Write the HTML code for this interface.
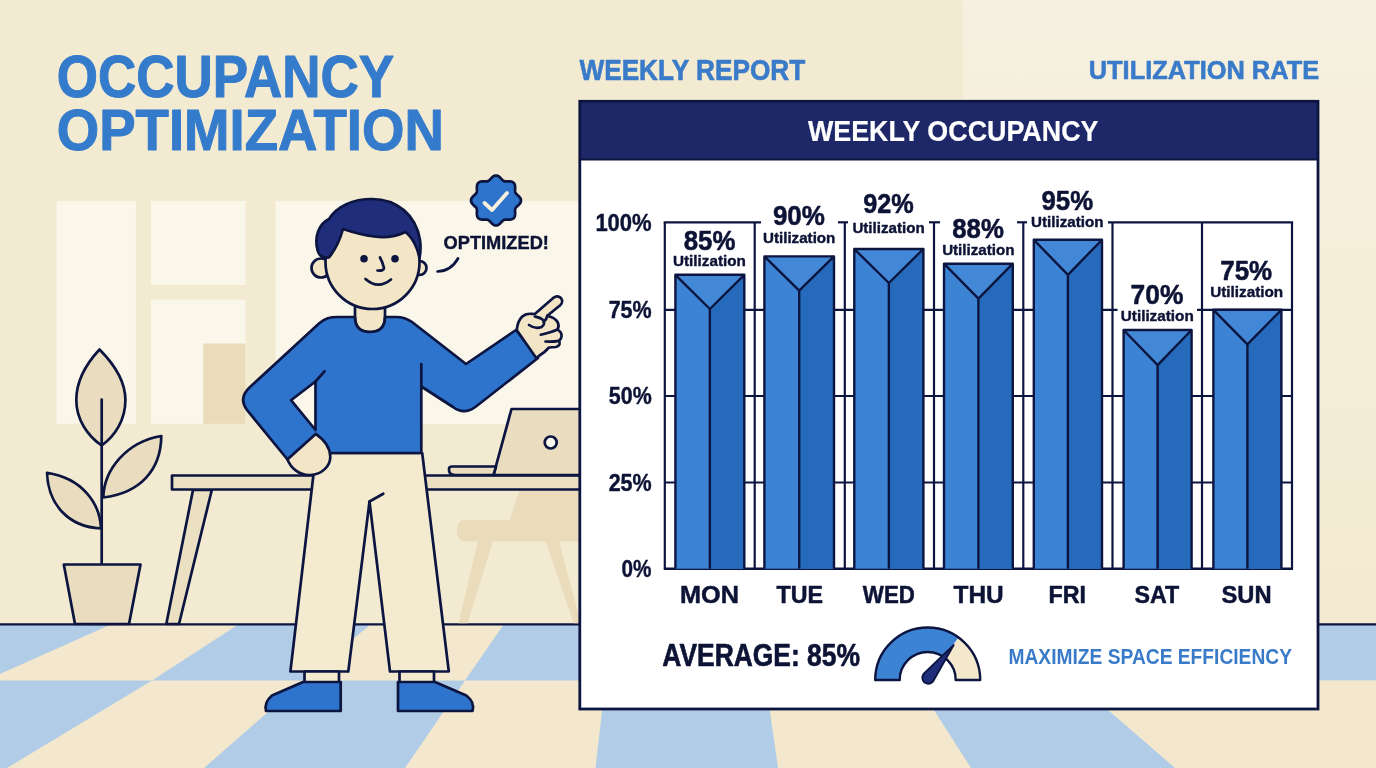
<!DOCTYPE html>
<html><head><meta charset="utf-8"><title>Occupancy Optimization</title>
<style>
html,body{margin:0;padding:0;background:#f3ead2;}
body{width:1376px;height:768px;overflow:hidden;}
svg{display:block;font-family:"Liberation Sans",sans-serif;font-weight:bold;will-change:transform;}
</style></head><body>
<svg width="1376" height="768" viewBox="0 0 1376 768">
<rect x="0" y="0" width="1376" height="768" fill="#f3ead2"/>
<defs><linearGradient id="wr" x1="0" y1="0" x2="0" y2="1"><stop offset="0" stop-color="#f6f0e0"/><stop offset="0.35" stop-color="#f5eeda"/><stop offset="1" stop-color="#f3ead0"/></linearGradient></defs>
<rect x="963" y="0" width="413" height="626" fill="url(#wr)"/>
<rect x="56.7" y="201" width="79.2" height="222.8" fill="#faf6ea"/>
<rect x="151" y="201" width="94.5" height="84" fill="#faf6ea"/>
<rect x="151" y="299.5" width="94.5" height="124.3" fill="#faf6ea"/>
<rect x="203.3" y="343.5" width="42.2" height="80.3" fill="#eadbb9"/>
<rect x="275.5" y="201" width="305" height="223" fill="#faf6ea"/>
<rect x="0" y="624" width="1376" height="144" fill="#f3e8ce"/>
<polygon points="-20.0,624.0 112.0,624.0 -14.8,680.5 -150.0,680.5" fill="#b1cce6"/>
<polygon points="-14.8,680.5 152.0,680.5 7.0,768.0 -211.0,768.0" fill="#b1cce6"/>
<polygon points="239.0,624.0 371.0,624.0 304.0,680.5 152.0,680.5" fill="#b1cce6"/>
<polygon points="304.0,680.5 465.0,680.5 405.0,768.0 204.0,768.0" fill="#b1cce6"/>
<polygon points="504.0,624.0 612.0,624.0 605.5,680.5 465.0,680.5" fill="#b1cce6"/>
<polygon points="605.5,680.5 765.5,680.5 778.0,768.0 595.5,768.0" fill="#b1cce6"/>
<polygon points="760.0,624.0 880.0,624.0 915.0,680.5 765.5,680.5" fill="#b1cce6"/>
<polygon points="915.0,680.5 1074.0,680.5 1175.0,768.0 971.0,768.0" fill="#b1cce6"/>
<polygon points="1043.0,624.0 1300.0,624.0 1400.0,680.5 1074.0,680.5" fill="#b1cce6"/>
<polygon points="1400.0,680.5 1700.0,680.5 1900.0,768.0 1560.0,768.0" fill="#b1cce6"/>
<rect x="1300" y="624" width="76" height="56.5" fill="#b1cce6"/>
<rect x="1300" y="680.5" width="76" height="90" fill="#f3e8ce"/>
<line x1="0" y1="624.4" x2="1376" y2="624.4" stroke="#0c1440" stroke-width="2.2"/>
<path d="M99.5,349.5 C86,364 76.3,382 76.3,400 C76.3,420 88,436 101.7,445.5 C115,436 125.4,420 125.4,400 C125.4,382 114,364 99.5,349.5 Z" fill="#eaddbf" stroke="#0c1440" stroke-width="2.7" stroke-linejoin="round" stroke-linecap="round"/>
<path d="M101.7,399.5 L101.7,564" fill="none" stroke="#0c1440" stroke-width="2.7" stroke-linejoin="round" stroke-linecap="round"/>
<path d="M103.3,497.5 C104,470 126,442 161.3,436 C161,470 140,493 103.3,497.5 Z" fill="#eaddbf" stroke="#0c1440" stroke-width="2.7" stroke-linejoin="round" stroke-linecap="round"/>
<path d="M101,528.5 C100,503 82,478 47,472.8 C48,504 68,527 101,528.5 Z" fill="#eaddbf" stroke="#0c1440" stroke-width="2.7" stroke-linejoin="round" stroke-linecap="round"/>
<path d="M63.8,564.5 L140.5,564.5 L129,624 L75,624 Z" fill="#eaddbf" stroke="#0c1440" stroke-width="2.7" stroke-linejoin="round" stroke-linecap="round"/>
<path d="M520,489 L580,489 L580,541.5 L466,541.5 Q457,541.5 457,532 L457,529 Q457,520 466,520 L509.5,520 Z" fill="#eadbbb"/>
<polygon points="478.0,541.0 493.0,541.0 467.5,623.3 458.5,623.3" fill="#eadbbb"/>
<polygon points="545.4,541.0 558.8,541.0 580.0,620.0 580.0,623.3 573.8,623.3" fill="#eadbbb"/>
<path d="M193,490 L211.8,490 L179,624 L166.3,624 Z" fill="#ece0c3" stroke="#0c1440" stroke-width="2.7" stroke-linejoin="round" stroke-linecap="round"/>
<rect x="172" y="475.5" width="410" height="14" fill="#ece0c3" stroke="#0c1440" stroke-width="2.7" stroke-linejoin="round" stroke-linecap="round"/>
<path d="M511.5,409 L582,409 L582,475 L493.5,475 Z" fill="#eaddbf" stroke="#0c1440" stroke-width="2.7" stroke-linejoin="round" stroke-linecap="round"/>
<path d="M452,466.5 L496,466.5 L493.5,475 L455,475 Q448.5,475 449,469 Q449,466.5 452,466.5 Z" fill="#eaddbf" stroke="#0c1440" stroke-width="2.7" stroke-linejoin="round" stroke-linecap="round"/>
<circle cx="550.7" cy="442.5" r="6" fill="#fbf8ee" stroke="#0c1440" stroke-width="2.7" stroke-linejoin="round" stroke-linecap="round"/>
<path fill-rule="evenodd" d="M316,453 L422.2,453 L448.8,671.5 L390,671.5 L369.5,501.5 L348.3,671.5 L290.4,671.5 Z" fill="#f3ead0" stroke="#0c1440" stroke-width="2.7" stroke-linejoin="round" stroke-linecap="round"/>
<path d="M369.5,501.5 L383.3,493.7" fill="none" stroke="#0c1440" stroke-width="2.7" stroke-linejoin="round" stroke-linecap="round"/>
<rect x="304.5" y="671.5" width="34.5" height="11" fill="#f3ead0" stroke="#0c1440" stroke-width="2.7" stroke-linejoin="round" stroke-linecap="round"/>
<rect x="399.5" y="671.5" width="34.5" height="11" fill="#f3ead0" stroke="#0c1440" stroke-width="2.7" stroke-linejoin="round" stroke-linecap="round"/>
<path d="M303,682 L340.7,682 L340.7,711 L266,711 Q264,702 272,695.5 Z" fill="#2f74cc" stroke="#0c1440" stroke-width="2.7" stroke-linejoin="round" stroke-linecap="round"/>
<path d="M435,682 L398,682 L398,711 L472.5,711 Q475,702 466.3,695.5 Z" fill="#2f74cc" stroke="#0c1440" stroke-width="2.7" stroke-linejoin="round" stroke-linecap="round"/>
<path d="M355,300 L355,317 Q355,332 370,332 Q385,332 385,317 L385,300 Z" fill="#f3e6c6" stroke="#0c1440" stroke-width="2.7" stroke-linejoin="round" stroke-linecap="round"/>
<path fill-rule="evenodd" d="M355,317 L338,317 C330,317 325,318 319,323.5 L250,387 Q238,398 247,410 L287.5,459.5 L316,434.5 L316,453 L421.3,453 L421.3,386.5 L453,407 Q464,415.5 476,406.5 L538,358 L516,330 L466,364 L412,322 Q405,317 396,317 L385,317 Q385,332 370,332 Q355,332 355,317 Z M315.5,381.5 L291,400.2 L315.5,430 Z" fill="#2f74cc" stroke="#0c1440" stroke-width="2.7" stroke-linejoin="round" stroke-linecap="round"/>
<path d="M324.5,371.3 L315.5,381.5 M421.3,364 L421.3,386.5" fill="none" stroke="#0c1440" stroke-width="2.7" stroke-linejoin="round" stroke-linecap="round"/>
<path d="M287.4,459.4 C291,468 299,475.5 310.2,475 C322,474.5 330.5,466 330.3,456.5 C330,448 324.5,440 315.7,433.9 Z" fill="#f3e6c6" stroke="#0c1440" stroke-width="2.7" stroke-linejoin="round" stroke-linecap="round"/>
<path d="M516.7,330.1 C517.3,324.5 518.8,320 522,316.8 C524.5,314.3 528,313.6 531.5,313.8 L534.8,314 L553.8,297.6 C556,295.8 559.2,296 561,298.2 C562.8,300.5 562.3,303.5 560.2,305.3 L547.3,315.8 C551,316.5 556.5,319 558,323 C559,326 558.5,328 557.5,329.5 C560.5,331.5 562.3,334.5 561.3,337.5 C560.8,339 560,340 559,340.8 C560.8,343 559.5,346 556,347 L549,347.5 C546,351 543,353.5 539.5,355.5 L536.2,358.1 Z" fill="#f3e6c6" stroke="#0c1440" stroke-width="2.7" stroke-linejoin="round" stroke-linecap="round"/>
<path d="M529,325 C533,327.8 538,328.5 541.5,327 C544.5,325.5 545,321.5 542.5,319.5 C540,317.5 537,317 534.8,316.5 M540.8,334.7 C546,333.5 553,331.5 557.5,329.5 M545.5,341.5 C550,341.8 555,341.5 559,340.8 M543.5,322 C546,320 547,318 547.3,315.8" fill="none" stroke="#0c1440" stroke-width="2.7" stroke-linejoin="round" stroke-linecap="round"/>
<circle cx="321" cy="268" r="9.5" fill="#f3e6c6" stroke="#0c1440" stroke-width="2.7" stroke-linejoin="round" stroke-linecap="round"/>
<circle cx="419.5" cy="268" r="7" fill="#f3e6c6" stroke="#0c1440" stroke-width="2.7" stroke-linejoin="round" stroke-linecap="round"/>
<circle cx="372.5" cy="262" r="47" fill="#f3e6c6" stroke="#0c1440" stroke-width="2.7" stroke-linejoin="round" stroke-linecap="round"/>
<path d="M329,257.5 C324,258 319,257 317.5,250 C314,236 319,224 329,219 C337,206 353,199 372,199 C397,199 416,215 420,240 C421,247 420.5,253 419.5,258 C418,249 413,238 405.5,232 C395,237 384,238 374,236.5 C362,235 352,232 343,229 C340,240 335,250 329,257.5 Z" fill="#1f2d7a" stroke="#0c1440" stroke-width="2.7" stroke-linejoin="round" stroke-linecap="round"/>
<circle cx="364" cy="258.8" r="3.8" fill="#0c1440"/>
<circle cx="395" cy="258.8" r="3.8" fill="#0c1440"/>
<path d="M380,257.5 Q383,263 384,268 Q384,271 377.5,270.5" fill="none" stroke="#0c1440" stroke-width="2.7" stroke-linejoin="round" stroke-linecap="round"/>
<path d="M365.5,279 Q378,290 391,279.5" fill="none" stroke="#0c1440" stroke-width="2.7" stroke-linejoin="round" stroke-linecap="round"/>
<path d="M437.5,271.5 Q451,271 458,258.5" fill="none" stroke="#0c1440" stroke-width="2.7" stroke-linejoin="round" stroke-linecap="round"/>
<path d="M496.0,175.5 L496.8,175.6 L497.6,175.8 L498.4,176.2 L499.1,176.7 L499.8,177.3 L500.5,177.9 L501.1,178.6 L501.7,179.2 L502.3,179.8 L502.8,180.4 L503.4,180.8 L504.0,181.1 L504.7,181.3 L505.4,181.4 L506.2,181.5 L507.0,181.4 L507.9,181.4 L508.8,181.4 L509.7,181.4 L510.6,181.5 L511.5,181.6 L512.3,181.9 L513.0,182.3 L513.7,182.8 L514.2,183.5 L514.6,184.2 L514.9,185.0 L515.0,185.9 L515.1,186.8 L515.1,187.7 L515.1,188.6 L515.1,189.5 L515.0,190.3 L515.1,191.1 L515.2,191.8 L515.4,192.5 L515.7,193.1 L516.1,193.7 L516.7,194.2 L517.3,194.8 L517.9,195.4 L518.6,196.0 L519.2,196.7 L519.8,197.4 L520.3,198.1 L520.7,198.9 L520.9,199.7 L521.0,200.5 L520.9,201.3 L520.7,202.1 L520.3,202.9 L519.8,203.6 L519.2,204.3 L518.6,205.0 L517.9,205.6 L517.3,206.2 L516.7,206.8 L516.1,207.3 L515.7,207.9 L515.4,208.5 L515.2,209.2 L515.1,209.9 L515.0,210.7 L515.1,211.5 L515.1,212.4 L515.1,213.3 L515.1,214.2 L515.0,215.1 L514.9,216.0 L514.6,216.8 L514.2,217.5 L513.7,218.2 L513.0,218.7 L512.3,219.1 L511.5,219.4 L510.6,219.5 L509.7,219.6 L508.8,219.6 L507.9,219.6 L507.0,219.6 L506.2,219.5 L505.4,219.6 L504.7,219.7 L504.0,219.9 L503.4,220.2 L502.8,220.6 L502.3,221.2 L501.7,221.8 L501.1,222.4 L500.5,223.1 L499.8,223.7 L499.1,224.3 L498.4,224.8 L497.6,225.2 L496.8,225.4 L496.0,225.5 L495.2,225.4 L494.4,225.2 L493.6,224.8 L492.9,224.3 L492.2,223.7 L491.5,223.1 L490.9,222.4 L490.3,221.8 L489.7,221.2 L489.2,220.6 L488.6,220.2 L488.0,219.9 L487.3,219.7 L486.6,219.6 L485.8,219.5 L485.0,219.6 L484.1,219.6 L483.2,219.6 L482.3,219.6 L481.4,219.5 L480.5,219.4 L479.7,219.1 L479.0,218.7 L478.3,218.2 L477.8,217.5 L477.4,216.8 L477.1,216.0 L477.0,215.1 L476.9,214.2 L476.9,213.3 L476.9,212.4 L476.9,211.5 L477.0,210.7 L476.9,209.9 L476.8,209.2 L476.6,208.5 L476.3,207.9 L475.9,207.3 L475.3,206.8 L474.7,206.2 L474.1,205.6 L473.4,205.0 L472.8,204.3 L472.2,203.6 L471.7,202.9 L471.3,202.1 L471.1,201.3 L471.0,200.5 L471.1,199.7 L471.3,198.9 L471.7,198.1 L472.2,197.4 L472.8,196.7 L473.4,196.0 L474.1,195.4 L474.7,194.8 L475.3,194.2 L475.9,193.7 L476.3,193.1 L476.6,192.5 L476.8,191.8 L476.9,191.1 L477.0,190.3 L476.9,189.5 L476.9,188.6 L476.9,187.7 L476.9,186.8 L477.0,185.9 L477.1,185.0 L477.4,184.2 L477.8,183.5 L478.3,182.8 L479.0,182.3 L479.7,181.9 L480.5,181.6 L481.4,181.5 L482.3,181.4 L483.2,181.4 L484.1,181.4 L485.0,181.4 L485.8,181.5 L486.6,181.4 L487.3,181.3 L488.0,181.1 L488.6,180.8 L489.2,180.4 L489.7,179.8 L490.3,179.2 L490.9,178.6 L491.5,177.9 L492.2,177.3 L492.9,176.7 L493.6,176.2 L494.4,175.8 L495.2,175.6 L496.0,175.5 Z" fill="#2f74cc" stroke="#0c1440" stroke-width="2.7" stroke-linejoin="round" stroke-linecap="round"/>
<path d="M484.5,203 L492,210 L507,193" fill="none" stroke="#f7f0dc" stroke-width="3.8" stroke-linecap="round" stroke-linejoin="round"/>
<rect x="579.8" y="101.3" width="738.2" height="607.7" fill="#ffffff"/>
<rect x="579.8" y="101.3" width="738.2" height="58.2" fill="#1e2868"/>
<line x1="580" y1="159.5" x2="1318" y2="159.5" stroke="#0c1440" stroke-width="2"/>
<rect x="579.8" y="101.3" width="738.2" height="607.7" fill="none" stroke="#0c1440" stroke-width="2.8"/>
<line x1="664.8" y1="222.3" x2="664.8" y2="568.7" stroke="#0c1440" stroke-width="2.2"/>
<line x1="754.7" y1="222.3" x2="754.7" y2="568.7" stroke="#0c1440" stroke-width="2.2"/>
<line x1="844.8" y1="222.3" x2="844.8" y2="568.7" stroke="#0c1440" stroke-width="2.2"/>
<line x1="934" y1="222.3" x2="934" y2="568.7" stroke="#0c1440" stroke-width="2.2"/>
<line x1="1023.3" y1="222.3" x2="1023.3" y2="568.7" stroke="#0c1440" stroke-width="2.2"/>
<line x1="1112.5" y1="222.3" x2="1112.5" y2="568.7" stroke="#0c1440" stroke-width="2.2"/>
<line x1="1202" y1="222.3" x2="1202" y2="568.7" stroke="#0c1440" stroke-width="2.2"/>
<line x1="1292" y1="222.3" x2="1292" y2="568.7" stroke="#0c1440" stroke-width="2.2"/>
<line x1="664.8" y1="309.8" x2="1292" y2="309.8" stroke="#0c1440" stroke-width="2.2"/>
<line x1="664.8" y1="396" x2="1292" y2="396" stroke="#0c1440" stroke-width="2.2"/>
<line x1="664.8" y1="482.5" x2="1292" y2="482.5" stroke="#0c1440" stroke-width="2.2"/>
<line x1="663.8" y1="568.7" x2="1293" y2="568.7" stroke="#0c1440" stroke-width="2.6"/>
<rect x="1117.5" y="305" width="79.5" height="9" fill="#ffffff"/>
<line x1="663.7" y1="222.3" x2="761" y2="222.3" stroke="#0c1440" stroke-width="2.2"/>
<line x1="838" y1="222.3" x2="848" y2="222.3" stroke="#0c1440" stroke-width="2.2"/>
<line x1="929" y1="222.3" x2="940" y2="222.3" stroke="#0c1440" stroke-width="2.2"/>
<line x1="1017" y1="222.3" x2="1027" y2="222.3" stroke="#0c1440" stroke-width="2.2"/>
<line x1="1108" y1="222.3" x2="1293.1" y2="222.3" stroke="#0c1440" stroke-width="2.2"/>
<rect x="675.4" y="274.8" width="68.89999999999998" height="293.90000000000003" fill="#3c83d4"/>
<polygon points="709.8499999999999,309 744.3,274.8 744.3,568.7 709.8499999999999,568.7" fill="#266bbb"/>
<polygon points="675.4,274.8 744.3,274.8 709.8499999999999,309" fill="#4388d6"/>
<path d="M675.4,568.7 L675.4,274.8 L744.3,274.8 L744.3,568.7 M675.4,274.8 L709.8499999999999,309 L744.3,274.8 M709.8499999999999,309 L709.8499999999999,568.7" fill="none" stroke="#0c1440" stroke-width="2.4" stroke-linejoin="round"/>
<rect x="764.4" y="256.4" width="69.60000000000002" height="312.30000000000007" fill="#3c83d4"/>
<polygon points="799.2,290.7 834,256.4 834,568.7 799.2,568.7" fill="#266bbb"/>
<polygon points="764.4,256.4 834,256.4 799.2,290.7" fill="#4388d6"/>
<path d="M764.4,568.7 L764.4,256.4 L834,256.4 L834,568.7 M764.4,256.4 L799.2,290.7 L834,256.4 M799.2,290.7 L799.2,568.7" fill="none" stroke="#0c1440" stroke-width="2.4" stroke-linejoin="round"/>
<rect x="854.3" y="249" width="69.10000000000002" height="319.70000000000005" fill="#3c83d4"/>
<polygon points="888.8499999999999,283 923.4,249 923.4,568.7 888.8499999999999,568.7" fill="#266bbb"/>
<polygon points="854.3,249 923.4,249 888.8499999999999,283" fill="#4388d6"/>
<path d="M854.3,568.7 L854.3,249 L923.4,249 L923.4,568.7 M854.3,249 L888.8499999999999,283 L923.4,249 M888.8499999999999,283 L888.8499999999999,568.7" fill="none" stroke="#0c1440" stroke-width="2.4" stroke-linejoin="round"/>
<rect x="944" y="263.7" width="68.79999999999995" height="305.00000000000006" fill="#3c83d4"/>
<polygon points="978.4,298.7 1012.8,263.7 1012.8,568.7 978.4,568.7" fill="#266bbb"/>
<polygon points="944,263.7 1012.8,263.7 978.4,298.7" fill="#4388d6"/>
<path d="M944,568.7 L944,263.7 L1012.8,263.7 L1012.8,568.7 M944,263.7 L978.4,298.7 L1012.8,263.7 M978.4,298.7 L978.4,568.7" fill="none" stroke="#0c1440" stroke-width="2.4" stroke-linejoin="round"/>
<rect x="1033.8" y="239.8" width="68.20000000000005" height="328.90000000000003" fill="#3c83d4"/>
<polygon points="1067.9,274.8 1102,239.8 1102,568.7 1067.9,568.7" fill="#266bbb"/>
<polygon points="1033.8,239.8 1102,239.8 1067.9,274.8" fill="#4388d6"/>
<path d="M1033.8,568.7 L1033.8,239.8 L1102,239.8 L1102,568.7 M1033.8,239.8 L1067.9,274.8 L1102,239.8 M1067.9,274.8 L1067.9,568.7" fill="none" stroke="#0c1440" stroke-width="2.4" stroke-linejoin="round"/>
<rect x="1123.6" y="330" width="68.0" height="238.70000000000005" fill="#3c83d4"/>
<polygon points="1157.6,365.2 1191.6,330 1191.6,568.7 1157.6,568.7" fill="#266bbb"/>
<polygon points="1123.6,330 1191.6,330 1157.6,365.2" fill="#4388d6"/>
<path d="M1123.6,568.7 L1123.6,330 L1191.6,330 L1191.6,568.7 M1123.6,330 L1157.6,365.2 L1191.6,330 M1157.6,365.2 L1157.6,568.7" fill="none" stroke="#0c1440" stroke-width="2.4" stroke-linejoin="round"/>
<rect x="1213.4" y="309.8" width="68.0" height="258.90000000000003" fill="#3c83d4"/>
<polygon points="1247.4,344.3 1281.4,309.8 1281.4,568.7 1247.4,568.7" fill="#266bbb"/>
<polygon points="1213.4,309.8 1281.4,309.8 1247.4,344.3" fill="#4388d6"/>
<path d="M1213.4,568.7 L1213.4,309.8 L1281.4,309.8 L1281.4,568.7 M1213.4,309.8 L1247.4,344.3 L1281.4,309.8 M1247.4,344.3 L1247.4,568.7" fill="none" stroke="#0c1440" stroke-width="2.4" stroke-linejoin="round"/>
<text transform="matrix(0.2582,0,0,0.2817,683.68,249.57)" font-size="100" fill="#0c1335" stroke="#0c1335" stroke-width="0.5" vector-effect="non-scaling-stroke" stroke-linejoin="round">85%</text>
<text transform="matrix(0.1528,0,0,0.1405,672.98,266.06)" font-size="100" fill="#0c1335" stroke="#0c1335" stroke-width="0.4" vector-effect="non-scaling-stroke" stroke-linejoin="round">Utilization</text>
<text transform="matrix(0.2601,0,0,0.2718,772.91,225.38)" font-size="100" fill="#0c1335" stroke="#0c1335" stroke-width="0.5" vector-effect="non-scaling-stroke" stroke-linejoin="round">90%</text>
<text transform="matrix(0.1515,0,0,0.1405,762.99,242.96)" font-size="100" fill="#0c1335" stroke="#0c1335" stroke-width="0.4" vector-effect="non-scaling-stroke" stroke-linejoin="round">Utilization</text>
<text transform="matrix(0.2528,0,0,0.2761,863.24,212.57)" font-size="100" fill="#0c1335" stroke="#0c1335" stroke-width="0.5" vector-effect="non-scaling-stroke" stroke-linejoin="round">92%</text>
<text transform="matrix(0.1517,0,0,0.1446,852.39,232.56)" font-size="100" fill="#0c1335" stroke="#0c1335" stroke-width="0.4" vector-effect="non-scaling-stroke" stroke-linejoin="round">Utilization</text>
<text transform="matrix(0.2582,0,0,0.2754,952.18,237.87)" font-size="100" fill="#0c1335" stroke="#0c1335" stroke-width="0.5" vector-effect="non-scaling-stroke" stroke-linejoin="round">88%</text>
<text transform="matrix(0.1516,0,0,0.1446,942.14,255.26)" font-size="100" fill="#0c1335" stroke="#0c1335" stroke-width="0.4" vector-effect="non-scaling-stroke" stroke-linejoin="round">Utilization</text>
<text transform="matrix(0.258,0,0,0.2746,1041.52,209.98)" font-size="100" fill="#0c1335" stroke="#0c1335" stroke-width="0.5" vector-effect="non-scaling-stroke" stroke-linejoin="round">95%</text>
<text transform="matrix(0.1515,0,0,0.1446,1031.09,227.16)" font-size="100" fill="#0c1335" stroke="#0c1335" stroke-width="0.4" vector-effect="non-scaling-stroke" stroke-linejoin="round">Utilization</text>
<text transform="matrix(0.264,0,0,0.2761,1130.54,303.57)" font-size="100" fill="#0c1335" stroke="#0c1335" stroke-width="0.5" vector-effect="non-scaling-stroke" stroke-linejoin="round">70%</text>
<text transform="matrix(0.1528,0,0,0.1432,1120.78,320.66)" font-size="100" fill="#0c1335" stroke="#0c1335" stroke-width="0.4" vector-effect="non-scaling-stroke" stroke-linejoin="round">Utilization</text>
<text transform="matrix(0.2596,0,0,0.2775,1220.21,279.77)" font-size="100" fill="#0c1335" stroke="#0c1335" stroke-width="0.5" vector-effect="non-scaling-stroke" stroke-linejoin="round">75%</text>
<text transform="matrix(0.1528,0,0,0.1432,1210.18,296.76)" font-size="100" fill="#0c1335" stroke="#0c1335" stroke-width="0.4" vector-effect="non-scaling-stroke" stroke-linejoin="round">Utilization</text>
<text transform="matrix(0.2202,0,0,0.2408,595.38,230.76)" font-size="100" fill="#0c1335" stroke="#0c1335" stroke-width="0.4" vector-effect="non-scaling-stroke" stroke-linejoin="round">100%</text>
<text transform="matrix(0.215,0,0,0.2408,608.64,317.56)" font-size="100" fill="#0c1335" stroke="#0c1335" stroke-width="0.4" vector-effect="non-scaling-stroke" stroke-linejoin="round">75%</text>
<text transform="matrix(0.2139,0,0,0.2408,608.86,404.46)" font-size="100" fill="#0c1335" stroke="#0c1335" stroke-width="0.4" vector-effect="non-scaling-stroke" stroke-linejoin="round">50%</text>
<text transform="matrix(0.2149,0,0,0.2366,608.66,490.76)" font-size="100" fill="#0c1335" stroke="#0c1335" stroke-width="0.4" vector-effect="non-scaling-stroke" stroke-linejoin="round">25%</text>
<text transform="matrix(0.2072,0,0,0.2366,621.57,576.76)" font-size="100" fill="#0c1335" stroke="#0c1335" stroke-width="0.4" vector-effect="non-scaling-stroke" stroke-linejoin="round">0%</text>
<text transform="matrix(0.2525,0,0,0.2465,680.08,603.00)" font-size="100" fill="#0c1335" stroke="#0c1335" stroke-width="0.5" vector-effect="non-scaling-stroke" stroke-linejoin="round">MON</text>
<text transform="matrix(0.2323,0,0,0.2465,776.52,603.00)" font-size="100" fill="#0c1335" stroke="#0c1335" stroke-width="0.5" vector-effect="non-scaling-stroke" stroke-linejoin="round">TUE</text>
<text transform="matrix(0.2231,0,0,0.2465,862.85,603.00)" font-size="100" fill="#0c1335" stroke="#0c1335" stroke-width="0.5" vector-effect="non-scaling-stroke" stroke-linejoin="round">WED</text>
<text transform="matrix(0.2439,0,0,0.2465,953.51,603.00)" font-size="100" fill="#0c1335" stroke="#0c1335" stroke-width="0.5" vector-effect="non-scaling-stroke" stroke-linejoin="round">THU</text>
<text transform="matrix(0.2333,0,0,0.2465,1048.52,603.00)" font-size="100" fill="#0c1335" stroke="#0c1335" stroke-width="0.5" vector-effect="non-scaling-stroke" stroke-linejoin="round">FRI</text>
<text transform="matrix(0.2328,0,0,0.2465,1134.45,603.00)" font-size="100" fill="#0c1335" stroke="#0c1335" stroke-width="0.5" vector-effect="non-scaling-stroke" stroke-linejoin="round">SAT</text>
<text transform="matrix(0.2373,0,0,0.2465,1221.54,603.00)" font-size="100" fill="#0c1335" stroke="#0c1335" stroke-width="0.5" vector-effect="non-scaling-stroke" stroke-linejoin="round">SUN</text>
<text transform="matrix(0.2643,0,0,0.307,662.31,666.49)" font-size="100" fill="#0c1335" stroke="#0c1335" stroke-width="0.6" vector-effect="non-scaling-stroke" stroke-linejoin="round">AVERAGE: 85%</text>
<text transform="matrix(0.1922,0,0,0.2155,1008.45,663.58)" font-size="100" fill="#3a7bc9">MAXIMIZE SPACE EFFICIENCY</text>
<text transform="matrix(0.2687,0,0,0.3014,807.9,141.2)" font-size="100" fill="#ffffff" stroke="#ffffff" stroke-width="0.2" vector-effect="non-scaling-stroke" stroke-linejoin="round">WEEKLY OCCUPANCY</text>
<text transform="matrix(0.2623,0,0,0.293,579.4,79.91)" font-size="100" fill="#3a7bc9" stroke="#3a7bc9" stroke-width="0.6" vector-effect="non-scaling-stroke" stroke-linejoin="round">WEEKLY REPORT</text>
<text transform="matrix(0.254,0,0,0.2662,1088.78,79.43)" font-size="100" fill="#3a7bc9" stroke="#3a7bc9" stroke-width="0.6" vector-effect="non-scaling-stroke" stroke-linejoin="round">UTILIZATION RATE</text>
<text transform="matrix(0.5296,0,0,0.5873,56.78,96.71)" font-size="100" fill="#357bcb" stroke="#357bcb" stroke-width="1.0" vector-effect="non-scaling-stroke" stroke-linejoin="round">OCCUPANCY</text>
<text transform="matrix(0.546,0,0,0.5732,56.72,150.23)" font-size="100" fill="#357bcb" stroke="#357bcb" stroke-width="1.0" vector-effect="non-scaling-stroke" stroke-linejoin="round">OPTIMIZATION</text>
<text transform="matrix(0.1824,0,0,0.188,443.57,248.51)" font-size="100" fill="#0c1335" stroke="#0c1335" stroke-width="0.4" vector-effect="non-scaling-stroke" stroke-linejoin="round">OPTIMIZED!</text>
<path d="M875.2,680 A52.5,52.5 0 0 1 958.6,637.5 L944.2,657.3 A28,28 0 0 0 899.7,680 Z" fill="#3c83d4"/>
<path d="M958.6,637.5 A52.5,52.5 0 0 1 980.2,680 L955.7,680 A28,28 0 0 0 944.2,657.3 Z" fill="#f3e8cb"/>
<path d="M875.2,680 A52.5,52.5 0 0 1 980.2,680 L955.7,680 A28,28 0 0 0 899.7,680 Z" fill="none" stroke="#0c1440" stroke-width="2.4" stroke-linejoin="round"/>
<path d="M953.7,645 L933,681.5 Q929,685.5 924.5,682.5 Q920.5,678.5 923.5,674 Z" fill="#1f2d7a" stroke="#0c1440" stroke-width="1.8" stroke-linejoin="round"/>
</svg>
</body></html>
